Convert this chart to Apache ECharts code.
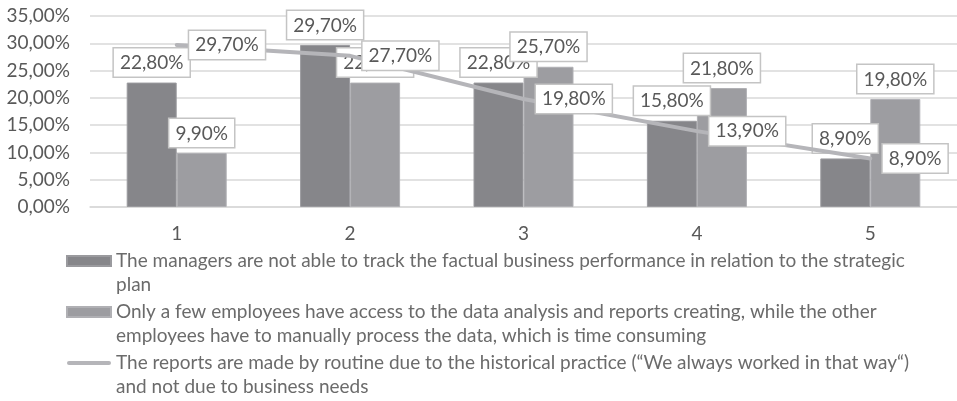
<!DOCTYPE html>
<html>
<head>
<meta charset="utf-8">
<script src="https://cdn.jsdelivr.net/npm/echarts@6/dist/echarts.min.js"></script>
<style>
html,body{margin:0;padding:0;background:#fff;}
#chart{width:957px;height:401px;}
</style>
</head>
<body>
<div id="chart"></div>
<script>
const categories = ['1', '2', '3', '4', '5'];
const managersSeries = [22.8, 29.7, 22.8, 15.8, 8.9];
const accessSeries = [9.9, 22.8, 25.7, 21.8, 19.8];
const routineSeries = [29.7, 27.7, 19.8, 13.9, 8.9];
const seriesNames = [
  'The managers are not able to track the factual business performance in relation to the strategic plan',
  'Only a few employees have access to the data analysis and reports creating, while the other employees have to manually process the data, which is time consuming',
  'The reports are made by routine due to the historical practice (\u201CWe always worked in that way\u201C) and not due to business needs'
];
const yTicks = { min: 0, max: 35, interval: 5 };

const FONT = 'Lato';
const LEGEND_FONT_SIZE = 19;
const LEGEND_WRAP = 815;
const fmt = v => v.toFixed(2).replace('.', ',') + '%';

// simple word wrap for legend text
const measureCtx = document.createElement('canvas').getContext('2d');
measureCtx.font = LEGEND_FONT_SIZE + 'px ' + FONT;
function wrapText(text, maxW) {
  const words = text.split(' ');
  const lines = [];
  let cur = '';
  words.forEach(w => {
    const test = cur ? cur + ' ' + w : w;
    if (cur && measureCtx.measureText(test).width > maxW) {
      lines.push(cur);
      cur = w;
    } else {
      cur = test;
    }
  });
  if (cur) lines.push(cur);
  return lines.join('\n');
}

const labelBox = {
  show: true,
  color: '#595959',
  fontFamily: FONT,
  fontSize: 19,
  lineHeight: 21,
  backgroundColor: '#ffffff',
  borderColor: '#c4c4c4',
  borderWidth: 1.5,
  padding: [4, 6, 3, 6],
  formatter: p => fmt(p.value)
};

const LINE_COLOR = '#b5b5b9';

const chart = echarts.init(document.getElementById('chart'), null, { renderer: 'canvas' });
chart.setOption({
  animation: false,
  backgroundColor: '#ffffff',
  grid: { left: 90, top: 16, width: 874, height: 191, containLabel: false },
  xAxis: {
    type: 'category',
    data: categories,
    axisLine: { show: true, lineStyle: { color: '#d9d9d9', width: 1.5 } },
    axisTick: { show: false },
    axisLabel: { color: '#595959', fontFamily: FONT, fontSize: 19, margin: 17 },
    splitLine: { show: false }
  },
  yAxis: {
    type: 'value',
    min: yTicks.min, max: yTicks.max, interval: yTicks.interval,
    axisLine: { show: false },
    axisTick: { show: false },
    axisLabel: { color: '#595959', fontFamily: FONT, fontSize: 19, margin: 20, formatter: v => fmt(v) },
    splitLine: { lineStyle: { color: '#d9d9d9', width: 1.5 } }
  },
  legend: {
    orient: 'vertical',
    left: 66,
    top: 225,
    height: 200,
    padding: 0,
    itemGap: -21,
    itemWidth: 44,
    itemHeight: 10,
    formatter: name => ' \n' + wrapText(name, LEGEND_WRAP),
    textStyle: {
      color: '#6b6b6b',
      fontFamily: FONT,
      fontSize: LEGEND_FONT_SIZE,
      lineHeight: 24
    },
    data: [
      { name: seriesNames[0], icon: 'rect' },
      { name: seriesNames[1], icon: 'rect' },
      {
        name: seriesNames[2],
        icon: 'path://M0,0 M2,3 L42,3 A2,2 0 0 1 42,7 L2,7 A2,2 0 0 1 2,3 Z M44,10',
        itemStyle: { color: LINE_COLOR, borderWidth: 0 }
      }
    ]
  },
  series: [
    {
      name: seriesNames[0],
      type: 'bar',
      data: managersSeries,
      barWidth: 50,
      barGap: '0%',
      itemStyle: { color: '#86868a', borderColor: '#9a9a9e', borderWidth: 1 },
      label: Object.assign({}, labelBox, { position: 'top', distance: 6 })
    },
    {
      name: seriesNames[1],
      type: 'bar',
      data: accessSeries,
      barWidth: 50,
      barGap: '0%',
      itemStyle: { color: '#9d9da1', borderColor: '#b0b0b4', borderWidth: 1 },
      label: Object.assign({}, labelBox, { position: 'top', distance: 6 })
    },
    {
      name: seriesNames[2],
      type: 'line',
      data: routineSeries,
      symbol: 'circle',
      symbolSize: 1,
      showSymbol: true,
      lineStyle: { color: LINE_COLOR, width: 4, cap: 'round' },
      itemStyle: { color: LINE_COLOR },
      label: Object.assign({}, labelBox, { position: 'right', distance: 12 }),
      z: 3
    }
  ]
});
</script>
</body>
</html>
